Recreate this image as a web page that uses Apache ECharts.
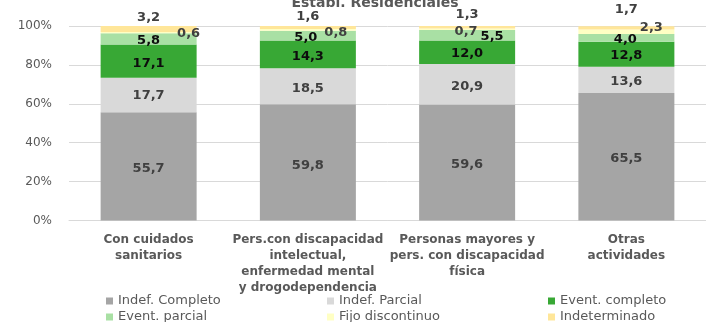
<!DOCTYPE html>
<html>
<head>
<meta charset="utf-8">
<script src="https://cdn.jsdelivr.net/npm/echarts@6/dist/echarts.min.js"></script>
<style>
  html, body { margin: 0; padding: 0; background: #fff; }
  #chart { width: 706px; height: 322px; }
</style>
</head>
<body>
<div id="chart"></div>
<script>
// Contract types by residential establishment type (% of workers)
const categories = [
  'Con cuidados\nsanitarios',
  'Pers.con discapacidad\nintelectual,\nenfermedad mental\ny drogodependencia',
  'Personas mayores y\npers. con discapacidad\nfísica',
  'Otras\nactividades'
];
const seriesNames = ['Indef. Completo', 'Indef. Parcial', 'Event. completo', 'Event. parcial', 'Fijo discontinuo', 'Indeterminado'];
const indefCompleto   = [55.7, 59.8, 59.6, 65.5];
const indefParcial    = [17.7, 18.5, 20.9, 13.6];
const eventCompleto   = [17.1, 14.3, 12.0, 12.8];
const eventParcial    = [5.8, 5.0, 5.5, 4.0];
const fijoDiscontinuo = [0.6, 0.8, 0.7, 2.3];
const indeterminado   = [3.2, 1.6, 1.3, 1.7];
const yTicks = [0, 20, 40, 60, 80, 100];

const seriesValues = [indefCompleto, indefParcial, eventCompleto, eventParcial, fijoDiscontinuo, indeterminado];
const colors = ['#a5a5a5', '#d9d9d9', '#38a835', '#a9e0a4', '#ffffc4', '#ffe699'];
const labelColors = ['#404040', '#404040', '#0d0d0d', '#0d0d0d', '#404040', '#404040'];

// Hand-placed label nudges [dx, dy] per series and category
const labelNudges = [
  [[0, 2], [0, 3], [0, 2], [0, 1.5]],
  [[0, 1], [0, 2], [0, 2], [0, 2]],
  [[0, 3], [0, 2], [0, 1], [0, 1]],
  [[0, 2], [-2, 2], [25, 1], [-1, 1.5]],
  [[40, 1], [28, 3], [-1, 2], [25, -4]],
  [[0, -11], [0, -11], [0, -13], [0, -18]]
];

const FONT = 'DejaVu Sans';
const fmt = v => v.toFixed(1).replace('.', ',');

const series = seriesNames.map((name, si) => ({
  name: name,
  type: 'bar',
  stack: 'total',
  barWidth: 96,
  itemStyle: { color: colors[si] },
  emphasis: { disabled: true },
  data: seriesValues[si].map((v, ci) => ({
    value: v,
    label: {
      show: true,
      position: 'inside',
      offset: labelNudges[si][ci],
      formatter: p => fmt(p.value),
      color: labelColors[si],
      fontFamily: FONT,
      fontWeight: 'bold',
      fontSize: 13
    }
  }))
}));

// Three two-row legend columns
const legendStyle = {
  orient: 'vertical',
  top: 293,
  height: 40,
  padding: 0,
  itemWidth: 7,
  itemHeight: 7,
  itemGap: 0,
  icon: 'rect',
  selectedMode: false,
  textStyle: { fontFamily: FONT, fontSize: 13, color: '#595959', lineHeight: 16 }
};

const chart = echarts.init(document.getElementById('chart'), null, { renderer: 'canvas' });
chart.setOption({
  animation: false,
  backgroundColor: '#ffffff',
  title: {
    text: 'Establ. Residenciales',
    left: 370,
    top: -9,
    textAlign: 'center',
    textStyle: { fontFamily: FONT, fontSize: 14, fontWeight: 'bold', color: '#595959' }
  },
  legend: [
    Object.assign({ left: 106, data: ['Indef. Completo', 'Event. parcial'] }, legendStyle),
    Object.assign({ left: 327, data: ['Indef. Parcial', 'Fijo discontinuo'] }, legendStyle),
    Object.assign({ left: 548, data: ['Event. completo', 'Indeterminado'] }, legendStyle)
  ],
  grid: { left: 69, right: -16, top: 26, bottom: 101.5, containLabel: false },
  xAxis: {
    type: 'category',
    data: categories,
    axisTick: { show: false },
    axisLine: { lineStyle: { color: '#d9d9d9', width: 1 } },
    axisLabel: {
      interval: 0,
      margin: 11,
      fontFamily: FONT,
      fontSize: 12,
      fontWeight: 'bold',
      color: '#595959',
      lineHeight: 16
    }
  },
  yAxis: {
    type: 'value',
    min: yTicks[0],
    max: yTicks[yTicks.length - 1],
    interval: yTicks[1] - yTicks[0],
    axisLine: { show: false },
    axisTick: { show: false },
    splitLine: { lineStyle: { color: '#d9d9d9', width: 1 } },
    axisLabel: {
      margin: 17,
      formatter: '{value}%',
      fontFamily: FONT,
      fontSize: 12,
      color: '#595959'
    }
  },
  series: series
});
</script>
</body>
</html>
